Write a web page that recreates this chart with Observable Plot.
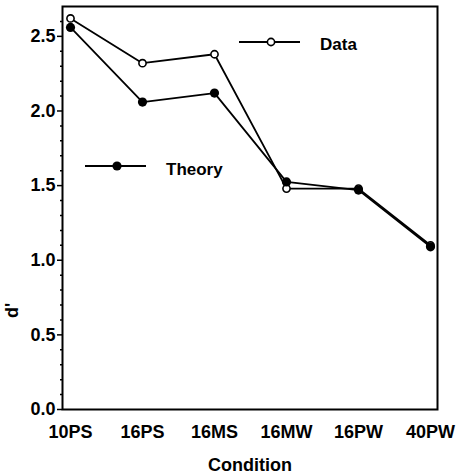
<!DOCTYPE html>
<html><head><meta charset="utf-8">
<script src="https://cdn.jsdelivr.net/npm/d3@7"></script>
<script src="https://cdn.jsdelivr.net/npm/@observablehq/plot@0.6"></script>
<style>
body{margin:0;background:#fff;}
#wrap{position:relative;width:457px;height:473px;}
</style></head><body><div id="wrap"></div>
<script>
const conditions = ["10PS","16PS","16MS","16MW","16PW","40PW"];
const dataValues = [2.62, 2.32, 2.38, 1.48, 1.48, 1.10];
const theoryValues = [2.56, 2.06, 2.12, 1.525, 1.47, 1.09];
const majorTicks = [0, 0.5, 1.0, 1.5, 2.0, 2.5];
const minorTicks = [0.1,0.2,0.3,0.4,0.6,0.7,0.8,0.9,1.1,1.2,1.3,1.4,1.6,1.7,1.8,1.9,2.1,2.2,2.3,2.4,2.6];
const seriesNames = ["Data", "Theory"];
const xLabel = "Condition";
const yLabel = "d'";

const rows = conditions.map((c, i) => ({c, data: dataValues[i], theory: theoryValues[i]}));
const font = "'Liberation Sans', Arial, sans-serif";

const plot = Plot.plot({
  width: 457, height: 473,
  marginLeft: 62, marginRight: 20, marginTop: 6, marginBottom: 64,
  style: {fontFamily: font, fontSize: "18px", fontWeight: "bold", color: "black", background: "white"},
  x: {type: "point", domain: conditions, padding: 0.085},
  y: {domain: [0, 2.7]},
  marks: [
    Plot.axisY({ticks: minorTicks, tickSize: 2, tickFormat: () => "", label: null, strokeWidth: 1.5}),
    Plot.axisY({ticks: majorTicks, tickSize: 5, tickPadding: 2, tickFormat: d3.format(".1f"), label: null, strokeWidth: 1.5}),
    Plot.axisX({tickSize: 0, tickPadding: 16, label: null}),
    Plot.text([xLabel], {text: d => d, frameAnchor: "bottom", dy: 61, lineAnchor: "bottom", fontSize: 18}),
    Plot.text([yLabel], {text: d => d, frameAnchor: "left", dx: -50, dy: 110, rotate: -90, fontSize: 18}),
    Plot.frame({stroke: "black", strokeWidth: 2}),
    Plot.line(rows, {x: "c", y: "data", stroke: "black", strokeWidth: 1.8}),
    Plot.line(rows, {x: "c", y: "theory", stroke: "black", strokeWidth: 1.8}),
    Plot.dot(rows, {x: "c", y: "data", r: 3.6, fill: "white", stroke: "black", strokeWidth: 1.6}),
    Plot.dot(rows, {x: "c", y: "theory", r: 4.6, fill: "black", stroke: "none"})
  ]
});
document.getElementById("wrap").appendChild(plot);

// legend inside the plot area
const svg = d3.select(plot);
const lg = svg.append("g").attr("font-family", font).attr("font-weight", "bold")
  .attr("font-size", 17).attr("text-anchor", "start");
const legendItems = [
  {name: seriesNames[0], x1: 239, x2: 300, y: 42, mx: 271, open: true, tx: 320, ty: 50},
  {name: seriesNames[1], x1: 85, x2: 146, y: 166, mx: 117, open: false, tx: 166, ty: 175}
];
legendItems.forEach(it => {
  lg.append("line").attr("x1", it.x1).attr("x2", it.x2).attr("y1", it.y).attr("y2", it.y)
    .attr("stroke", "black").attr("stroke-width", 1.8);
  lg.append("circle").attr("cx", it.mx).attr("cy", it.y).attr("r", it.open ? 3.6 : 4.6)
    .attr("fill", it.open ? "white" : "black").attr("stroke", it.open ? "black" : "none").attr("stroke-width", 1.6);
  lg.append("text").attr("x", it.tx).attr("y", it.ty).attr("fill", "black").attr("text-anchor", "start").text(it.name);
});
</script>
</body></html>
